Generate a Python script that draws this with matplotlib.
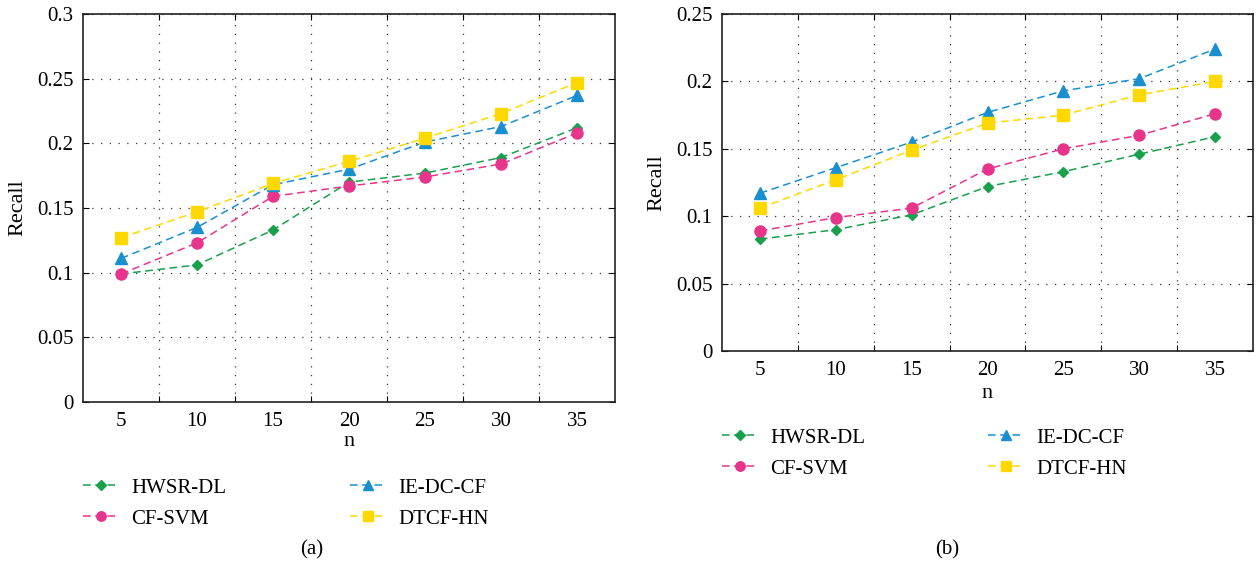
import matplotlib.pyplot as plt
import numpy as np

# data
n = [5, 10, 15, 20, 25, 30, 35]
names = ['HWSR-DL', 'CF-SVM', 'IE-DC-CF', 'DTCF-HN']

recall_a = {
    'HWSR-DL': [0.099, 0.106, 0.133, 0.170, 0.177, 0.189, 0.212],
    'CF-SVM': [0.099, 0.123, 0.159, 0.167, 0.174, 0.184, 0.208],
    'IE-DC-CF': [0.111, 0.135, 0.168, 0.180, 0.201, 0.213, 0.237],
    'DTCF-HN': [0.127, 0.147, 0.169, 0.186, 0.204, 0.223, 0.247],
}
recall_b = {
    'HWSR-DL': [0.083, 0.090, 0.101, 0.122, 0.133, 0.146, 0.159],
    'CF-SVM': [0.089, 0.099, 0.106, 0.135, 0.150, 0.160, 0.176],
    'IE-DC-CF': [0.117, 0.136, 0.155, 0.177, 0.193, 0.202, 0.224],
    'DTCF-HN': [0.106, 0.127, 0.149, 0.169, 0.175, 0.190, 0.200],
}

colors = {'HWSR-DL': '#19a04c', 'CF-SVM': '#e8358c', 'IE-DC-CF': '#1a8fd0', 'DTCF-HN': '#ffd800'}
markers = {'HWSR-DL': ('D', 5.5), 'CF-SVM': ('o', 8), 'IE-DC-CF': ('^', 8.5), 'DTCF-HN': ('s', 8)}

plt.rcParams['font.family'] = ['Liberation Serif', 'DejaVu Serif']
plt.rcParams['font.size'] = 15

W, H = 1256, 567
fig = plt.figure(figsize=(W / 100, H / 100), dpi=100)


def box(l, t, r, b):
    return [l / W, 1 - b / H, (r - l) / W, (b - t) / H]


def panel(rect, data, ymax, ylab_x, nlab_y, leg1, leg2, cap):
    ax = fig.add_axes(box(*rect))
    lines = {}
    for name in names:
        m, ms = markers[name]
        lines[name], = ax.plot(n, data[name], color=colors[name], linestyle=(0, (5, 3)), linewidth=1.1,
                               marker=m, markersize=ms, label=name)
    ax.set_xlim(2.5, 37.5)
    ax.set_ylim(0, ymax)
    ax.set_xticks(np.arange(7.5, 33, 5))
    ax.set_xticklabels([])
    ax.set_xticks(n, minor=True)
    ax.set_xticklabels([str(v) for v in n], minor=True)
    ax.tick_params(axis='x', which='minor', length=0, pad=7)
    ax.tick_params(axis='x', which='major', direction='in', length=4, top=True)
    yt = np.arange(0, ymax + 0.001, 0.05)
    ax.set_yticks(yt)
    ax.set_yticklabels(['0' if v == 0 else ('%.2f' % v).rstrip('0') for v in yt])
    ax.tick_params(axis='y', direction='in', length=4, right=True, pad=7)
    ax.grid(True, which='major', color='#333333', linestyle=(0, (1, 6)), linewidth=0.9)
    for s in ax.spines.values():
        s.set_linewidth(1.2)
        s.set_color('#222222')
    ax.set_xlabel('n', fontsize=16)
    ax.set_ylabel('Recall', fontsize=16)
    ax.xaxis.label.set_va('center')
    ax.yaxis.label.set_va('center')
    ax.xaxis.set_label_coords(0.5, (rect[3] - nlab_y) / (rect[3] - rect[1]))
    ax.yaxis.set_label_coords((ylab_x - rect[0]) / (rect[2] - rect[0]), 0.5)
    for (lx, ly), group in ((leg1, names[:2]), (leg2, names[2:])):
        fig.legend([lines[g] for g in group], group, loc='upper left',
                   bbox_to_anchor=(lx / W, 1 - ly / H), frameon=False,
                   handlelength=1.7, handletextpad=0.6, labelspacing=0.55,
                   borderpad=0, borderaxespad=0, markerscale=0.85, fontsize=15)
    fig.text(cap[0] / W, 1 - cap[1] / H, cap[2], ha='center', va='center', fontsize=15)
    return ax


panel((83, 14, 615, 402), recall_a, 0.3, 18, 442, (83, 478), (350, 478), (312, 550, '(a)'))
panel((722, 14, 1253, 351), recall_b, 0.25, 657, 393, (722, 428), (988, 428), (947, 550, '(b)'))

fig.savefig('out.png', dpi=100)
